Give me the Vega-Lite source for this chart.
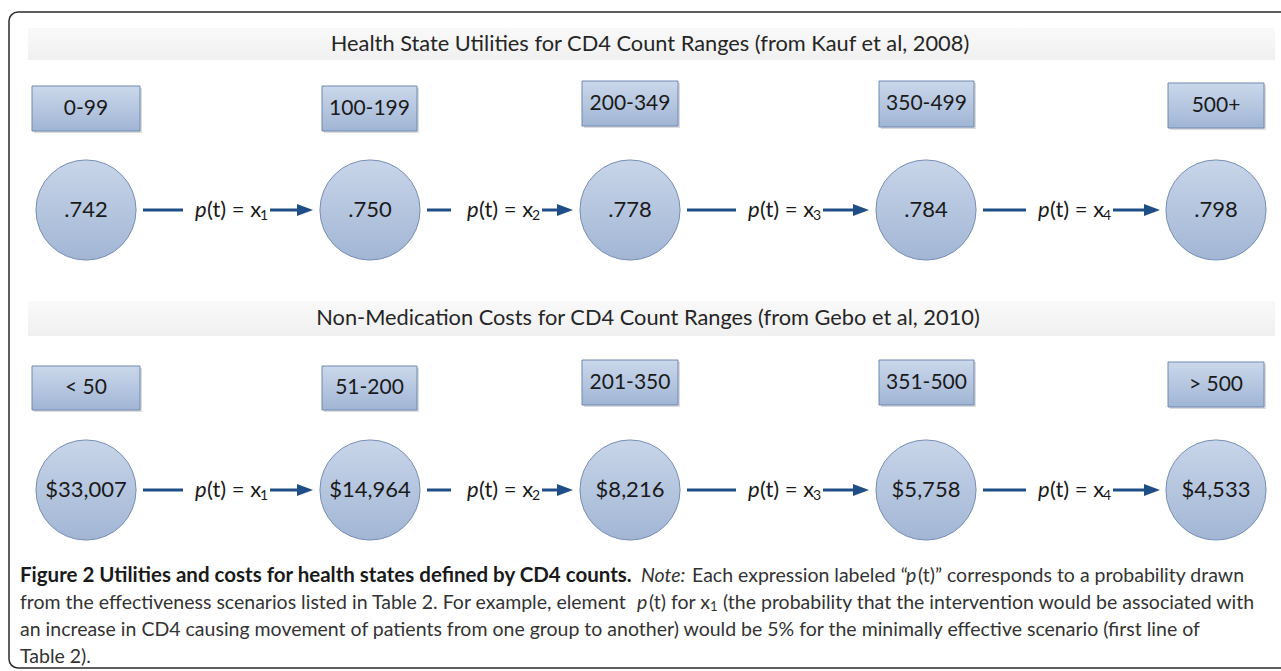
{
  "$schema": "https://vega.github.io/schema/vega-lite/v6.json",
  "width": 1281,
  "height": 671,
  "autosize": {"type": "fit", "contains": "padding"},
  "padding": 0,
  "background": "white",
  "config": {"view": {"stroke": null}},
  "datasets": {
    "frame": [{"x1": 9, "x2": 1300, "y1": 12, "y2": 668}],
    "bands": [
      {"x1": 28, "x2": 1275, "y1": 28, "y2": 60, "tx": 650, "ty": 44, "title": "Health State Utilities for CD4 Count Ranges (from Kauf et al, 2008)"},
      {"x1": 28, "x2": 1275, "y1": 301, "y2": 336, "tx": 648, "ty": 318, "title": "Non-Medication Costs for CD4 Count Ranges (from Gebo et al, 2010)"}
    ],
    "boxes": [
      {"label": "0-99", "x1": 32, "x2": 140, "y1": 86, "y2": 131, "cx": 86, "cy": 108.5},
      {"label": "100-199", "x1": 322, "x2": 417, "y1": 86, "y2": 131, "cx": 369.5, "cy": 108.5},
      {"label": "200-349", "x1": 582, "x2": 678, "y1": 81, "y2": 126, "cx": 630, "cy": 103.5},
      {"label": "350-499", "x1": 879, "x2": 974, "y1": 81, "y2": 127, "cx": 926.5, "cy": 104},
      {"label": "500+", "x1": 1168, "x2": 1264, "y1": 83, "y2": 128, "cx": 1216, "cy": 105.5},
      {"label": "< 50", "x1": 32, "x2": 140, "y1": 366, "y2": 410, "cx": 86, "cy": 388},
      {"label": "51-200", "x1": 322, "x2": 417, "y1": 366, "y2": 410, "cx": 369.5, "cy": 388},
      {"label": "201-350", "x1": 582, "x2": 678, "y1": 360, "y2": 405, "cx": 630, "cy": 382.5},
      {"label": "351-500", "x1": 879, "x2": 974, "y1": 360, "y2": 405, "cx": 926.5, "cy": 382.5},
      {"label": "> 500", "x1": 1168, "x2": 1264, "y1": 362, "y2": 407, "cx": 1216, "cy": 384.5}
    ],
    "nodes": [
      {"label": ".742", "x": 86, "y": 210},
      {"label": ".750", "x": 370, "y": 210},
      {"label": ".778", "x": 630, "y": 210},
      {"label": ".784", "x": 926, "y": 210},
      {"label": ".798", "x": 1216, "y": 210},
      {"label": "$33,007", "x": 86, "y": 490},
      {"label": "$14,964", "x": 370, "y": 490},
      {"label": "$8,216", "x": 630, "y": 490},
      {"label": "$5,758", "x": 926, "y": 490},
      {"label": "$4,533", "x": 1216, "y": 490}
    ],
    "lines": [
      {"x1": 143, "x2": 183, "y": 210}, {"x1": 270, "x2": 306, "y": 210},
      {"x1": 427, "x2": 451, "y": 210}, {"x1": 542, "x2": 566, "y": 210},
      {"x1": 687, "x2": 736, "y": 210}, {"x1": 823, "x2": 862, "y": 210},
      {"x1": 983, "x2": 1026, "y": 210}, {"x1": 1113, "x2": 1153, "y": 210},
      {"x1": 143, "x2": 183, "y": 490}, {"x1": 270, "x2": 306, "y": 490},
      {"x1": 427, "x2": 451, "y": 490}, {"x1": 542, "x2": 566, "y": 490},
      {"x1": 687, "x2": 736, "y": 490}, {"x1": 823, "x2": 862, "y": 490},
      {"x1": 983, "x2": 1026, "y": 490}, {"x1": 1113, "x2": 1153, "y": 490}
    ],
    "heads": [
      {"x": 305, "y": 210}, {"x": 565, "y": 210}, {"x": 861, "y": 210}, {"x": 1152, "y": 210},
      {"x": 305, "y": 490}, {"x": 565, "y": 490}, {"x": 861, "y": 490}, {"x": 1152, "y": 490}
    ],
    "pItal": [
      {"x": 195, "y": 210}, {"x": 467, "y": 210}, {"x": 748, "y": 210}, {"x": 1038, "y": 210},
      {"x": 195, "y": 490}, {"x": 467, "y": 490}, {"x": 748, "y": 490}, {"x": 1038, "y": 490}
    ],
    "pRest": [
      {"x": 207, "y": 210}, {"x": 479, "y": 210}, {"x": 760, "y": 210}, {"x": 1050, "y": 210},
      {"x": 207, "y": 490}, {"x": 479, "y": 490}, {"x": 760, "y": 490}, {"x": 1050, "y": 490}
    ],
    "pSub": [
      {"t": "1", "x": 260, "y": 216}, {"t": "2", "x": 532, "y": 216}, {"t": "3", "x": 813, "y": 216}, {"t": "4", "x": 1103, "y": 216},
      {"t": "1", "x": 260, "y": 496}, {"t": "2", "x": 532, "y": 496}, {"t": "3", "x": 813, "y": 496}, {"t": "4", "x": 1103, "y": 496}
    ],
    "capBold": [
      {"x": 20, "y": 576, "text": "Figure 2 Utilities and costs for health states defined by CD4 counts."}
    ],
    "capItalic": [
      {"x": 641, "y": 576, "text": "Note:"},
      {"x": 906, "y": 576, "text": "p"},
      {"x": 637, "y": 603, "text": "p"}
    ],
    "capRegular": [
      {"x": 692, "y": 576, "text": "Each expression labeled “"},
      {"x": 918, "y": 576, "text": "(t)” corresponds to a probability drawn"},
      {"x": 20, "y": 603, "text": "from the effectiveness scenarios listed in Table 2. For example, element"},
      {"x": 649, "y": 603, "text": "(t) for x"},
      {"x": 723, "y": 603, "text": "(the probability that the intervention would be associated with"},
      {"x": 20, "y": 630, "text": "an increase in CD4 causing movement of patients from one group to another) would be 5% for the minimally effective scenario (first line of"},
      {"x": 20, "y": 657, "text": "Table 2)."}
    ],
    "capSub": [
      {"x": 710, "y": 607, "text": "1"}
    ]
  },
  "layer": [
    {
      "data": {"name": "frame"},
      "mark": {"type": "rect", "fill": null, "stroke": "#2b2b2b", "strokeWidth": 1.5, "cornerRadius": 9, "clip": true},
      "encoding": {
        "x": {"field": "x1", "type": "quantitative", "scale": {"domain": [0, 1281], "nice": false, "zero": false}, "axis": null},
        "x2": {"field": "x2"},
        "y": {"field": "y1", "type": "quantitative", "scale": {"domain": [0, 671], "reverse": true, "nice": false, "zero": false}, "axis": null},
        "y2": {"field": "y2"}
      }
    },
    {
      "data": {"name": "bands"},
      "mark": {"type": "rect", "fill": {"gradient": "linear", "x1": 0, "y1": 0, "x2": 0, "y2": 1, "stops": [{"offset": 0, "color": "#f9f9f9"}, {"offset": 1, "color": "#f0f0f0"}]}},
      "encoding": {
        "x": {"field": "x1", "type": "quantitative", "axis": null},
        "x2": {"field": "x2"},
        "y": {"field": "y1", "type": "quantitative", "axis": null},
        "y2": {"field": "y2"}
      }
    },
    {
      "data": {"name": "bands"},
      "mark": {"type": "text", "font": "Lato", "fontSize": 21.8, "color": "#262626", "align": "center", "baseline": "middle"},
      "encoding": {
        "x": {"field": "tx", "type": "quantitative", "axis": null},
        "y": {"field": "ty", "type": "quantitative", "axis": null},
        "text": {"field": "title"}
      }
    },
    {
      "data": {"name": "boxes"},
      "mark": {"type": "rect", "fill": "#9a9a9a", "opacity": 0.35, "xOffset": 2, "yOffset": 2, "x2Offset": 2, "y2Offset": 2},
      "encoding": {
        "x": {"field": "x1", "type": "quantitative", "axis": null},
        "x2": {"field": "x2"},
        "y": {"field": "y1", "type": "quantitative", "axis": null},
        "y2": {"field": "y2"}
      }
    },
    {
      "data": {"name": "boxes"},
      "mark": {"type": "rect", "stroke": "#6e88b2", "strokeWidth": 1, "fill": {"gradient": "linear", "x1": 0, "y1": 0, "x2": 0, "y2": 1, "stops": [{"offset": 0, "color": "#cbd8eb"}, {"offset": 1, "color": "#a0b5d4"}]}},
      "encoding": {
        "x": {"field": "x1", "type": "quantitative", "axis": null},
        "x2": {"field": "x2"},
        "y": {"field": "y1", "type": "quantitative", "axis": null},
        "y2": {"field": "y2"}
      }
    },
    {
      "data": {"name": "boxes"},
      "mark": {"type": "text", "font": "Lato", "fontSize": 21, "color": "#1a1a1a", "align": "center", "baseline": "middle"},
      "encoding": {
        "x": {"field": "cx", "type": "quantitative", "axis": null},
        "y": {"field": "cy", "type": "quantitative", "axis": null},
        "text": {"field": "label"}
      }
    },
    {
      "data": {"name": "nodes"},
      "mark": {"type": "point", "shape": "circle", "filled": true, "size": 10029, "opacity": 1, "stroke": "#7890b5", "strokeWidth": 1, "fill": {"gradient": "linear", "x1": 0, "y1": 0, "x2": 0, "y2": 1, "stops": [{"offset": 0, "color": "#c8d5e9"}, {"offset": 1, "color": "#a2b6d4"}]}},
      "encoding": {
        "x": {"field": "x", "type": "quantitative", "axis": null},
        "y": {"field": "y", "type": "quantitative", "axis": null}
      }
    },
    {
      "data": {"name": "nodes"},
      "mark": {"type": "text", "font": "Lato", "fontSize": 22, "color": "#1a1a1a", "align": "center", "baseline": "middle"},
      "encoding": {
        "x": {"field": "x", "type": "quantitative", "axis": null},
        "y": {"field": "y", "type": "quantitative", "axis": null},
        "text": {"field": "label"}
      }
    },
    {
      "data": {"name": "lines"},
      "mark": {"type": "rule", "color": "#1f4e86", "strokeWidth": 3},
      "encoding": {
        "x": {"field": "x1", "type": "quantitative", "axis": null},
        "x2": {"field": "x2"},
        "y": {"field": "y", "type": "quantitative", "axis": null}
      }
    },
    {
      "data": {"name": "heads"},
      "mark": {"type": "point", "shape": "M -1 -0.75 L 1 0 L -1 0.75 Z", "filled": true, "size": 256, "opacity": 1, "color": "#1f4e86"},
      "encoding": {
        "x": {"field": "x", "type": "quantitative", "axis": null},
        "y": {"field": "y", "type": "quantitative", "axis": null}
      }
    },
    {
      "data": {"name": "pItal"},
      "mark": {"type": "text", "text": "p", "font": "Lato", "fontSize": 22, "fontStyle": "italic", "color": "#1a1a1a", "align": "left", "baseline": "middle"},
      "encoding": {
        "x": {"field": "x", "type": "quantitative", "axis": null},
        "y": {"field": "y", "type": "quantitative", "axis": null}
      }
    },
    {
      "data": {"name": "pRest"},
      "mark": {"type": "text", "text": "(t) = x", "font": "Lato", "fontSize": 22, "color": "#1a1a1a", "align": "left", "baseline": "middle"},
      "encoding": {
        "x": {"field": "x", "type": "quantitative", "axis": null},
        "y": {"field": "y", "type": "quantitative", "axis": null}
      }
    },
    {
      "data": {"name": "pSub"},
      "mark": {"type": "text", "font": "Lato", "fontSize": 14, "color": "#1a1a1a", "align": "left", "baseline": "middle"},
      "encoding": {
        "x": {"field": "x", "type": "quantitative", "axis": null},
        "y": {"field": "y", "type": "quantitative", "axis": null},
        "text": {"field": "t"}
      }
    },
    {
      "data": {"name": "capBold"},
      "mark": {"type": "text", "font": "Lato", "fontSize": 20.5, "fontWeight": "bold", "color": "#1a1a1a", "align": "left", "baseline": "middle"},
      "encoding": {
        "x": {"field": "x", "type": "quantitative", "axis": null},
        "y": {"field": "y", "type": "quantitative", "axis": null},
        "text": {"field": "text"}
      }
    },
    {
      "data": {"name": "capItalic"},
      "mark": {"type": "text", "font": "Lato", "fontSize": 19.5, "fontStyle": "italic", "color": "#333333", "align": "left", "baseline": "middle"},
      "encoding": {
        "x": {"field": "x", "type": "quantitative", "axis": null},
        "y": {"field": "y", "type": "quantitative", "axis": null},
        "text": {"field": "text"}
      }
    },
    {
      "data": {"name": "capRegular"},
      "mark": {"type": "text", "font": "Lato", "fontSize": 19.5, "color": "#333333", "align": "left", "baseline": "middle"},
      "encoding": {
        "x": {"field": "x", "type": "quantitative", "axis": null},
        "y": {"field": "y", "type": "quantitative", "axis": null},
        "text": {"field": "text"}
      }
    },
    {
      "data": {"name": "capSub"},
      "mark": {"type": "text", "font": "Lato", "fontSize": 13, "color": "#333333", "align": "left", "baseline": "middle"},
      "encoding": {
        "x": {"field": "x", "type": "quantitative", "axis": null},
        "y": {"field": "y", "type": "quantitative", "axis": null},
        "text": {"field": "text"}
      }
    }
  ]
}
